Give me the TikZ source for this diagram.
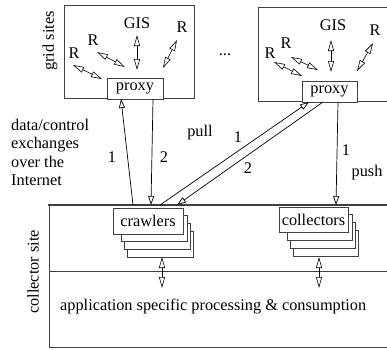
\documentclass[tikz,border=0pt]{standalone}
\usepackage{fontspec}
\setmainfont{Liberation Serif}
\usetikzlibrary{arrows.meta,calc}
\begin{document}
\begin{tikzpicture}[x=1pt,y=-1pt,
  frame/.style={draw=black!75, line width=0.9pt},
  lbl/.style={font=\fontsize{16.3}{18.3}\selectfont, inner sep=0pt},
  boxnode/.style={frame, fill=white, lbl, inner sep=0pt},
  stackbox/.style={frame, fill=white},
  dbl/.style={line width=0.6pt, {Triangle[open,length=11pt,width=6pt]}-{Triangle[open,length=11pt,width=6pt]}},
  con/.style={line width=0.7pt, -{Triangle[open,length=9pt,width=6pt]}},
]
\useasboundingbox (0,0) rectangle (387,349);

% grid site boxes
\draw[frame] (64,5) rectangle (194,98);
\draw[frame] (258,7) rectangle (400,101);

% collector site box
\draw[frame] (49,205) rectangle (400,347);
\draw[draw=black!75, line width=1.8pt] (48,205) -- (400,205);
\draw[frame] (49,271) -- (400,271);

% labels
\node[lbl, rotate=90] (gridlbl) at (50,41) {grid sites};
\node[lbl, rotate=90] (colllbl) at (33,272) {collector site};
\node[lbl, align=left, anchor=west] (datalbl) at (11,152.5) {data/control\\exchanges\\over the\\Internet};
\node[lbl] (dots) at (225,55) {...};

% site 1 contents
\node[lbl] (gisA) at (137,23) {GIS};
\node[lbl] (rA1) at (182,27) {R};
\node[lbl] (rA2) at (93,40) {R};
\node[lbl] (rA3) at (74,53) {R};
\node[boxnode, minimum width=56pt, minimum height=21pt] (proxyA) at (135,88.5) {proxy};
\coordinate (a1s) at (73,65);   \coordinate (a1e) at (102,79);
\coordinate (a2s) at (97,52);   \coordinate (a2e) at (125,67);
\coordinate (a3s) at (137,35);  \coordinate (a3e) at (137,70);
\coordinate (a4s) at (177,40);  \coordinate (a4e) at (163,68);
\draw[dbl] (a1s) -- (a1e);
\draw[dbl] (a2s) -- (a2e);
\draw[dbl] (a3s) -- (a3e);
\draw[dbl] (a4s) -- (a4e);

% site 2 contents
\node[lbl] (gisB) at (333,25) {GIS};
\node[lbl] (rB1) at (375,30) {R};
\node[lbl] (rB2) at (286,43) {R};
\node[lbl] (rB3) at (270,53) {R};
\node[boxnode, minimum width=55pt, minimum height=21pt] (proxyB) at (329.5,91.5) {proxy};
\coordinate (b1s) at (274,62);  \coordinate (b1e) at (302,76);
\coordinate (b2s) at (291,57);  \coordinate (b2e) at (318,70);
\coordinate (b3s) at (331,40);  \coordinate (b3e) at (331,72);
\coordinate (b4s) at (373,43);  \coordinate (b4e) at (357,71);
\draw[dbl] (b1s) -- (b1e);
\draw[dbl] (b2s) -- (b2e);
\draw[dbl] (b3s) -- (b3e);
\draw[dbl] (b4s) -- (b4e);

% crawlers stack
\draw[stackbox] (127,231) rectangle (193,257);
\draw[stackbox] (124,223) rectangle (190,249);
\draw[stackbox] (121,215) rectangle (187,241);
\node[boxnode, minimum width=70pt, minimum height=26pt] (crawlers) at (148,221) {crawlers};

% collectors stack
\draw[stackbox] (293,230) rectangle (358,256);
\draw[stackbox] (290,222) rectangle (355,248);
\draw[stackbox] (287,214) rectangle (352,240);
\node[boxnode, minimum width=69pt, minimum height=25pt] (collectors) at (313.5,219.5) {collectors};

% connector end points
\coordinate (c1a) at (133,205);  \coordinate (p1a) at (121,99);
\coordinate (p1b) at (153,99);   \coordinate (c2a) at (151,205);
\coordinate (c3a) at (160,205);  \coordinate (p3b) at (309,102);
\coordinate (p4b) at (323,102);  \coordinate (c4a) at (177,205);
\coordinate (p5b) at (338,102);  \coordinate (c5a) at (336,205);

\draw[con] (c1a) -- (p1a);
\draw[con] (p1b) -- (c2a);
\draw[con] (c3a) -- (p3b);
\draw[con] (p4b) -- (c4a);
\draw[con] (p5b) -- (c5a);

\node[lbl] (n1) at (112,157) {1};
\node[lbl] (n2) at (164,157) {2};
\node[lbl] (pull) at (200,133) {pull};
\node[lbl] (n3) at (238,137) {1};
\node[lbl] (n4) at (248,168) {2};
\node[lbl] (n5) at (346,150) {1};
\node[lbl] (push) at (367,173) {push};

% processing arrows
\coordinate (d1s) at (162,257); \coordinate (d1e) at (162,288);
\coordinate (d2s) at (319,257); \coordinate (d2e) at (319,288);
\draw[dbl] (d1s) -- (d1e);
\draw[dbl] (d2s) -- (d2e);

\node[lbl, anchor=west] (app) at (60,307) {application specific processing \& consumption};
\end{tikzpicture}
\end{document}
